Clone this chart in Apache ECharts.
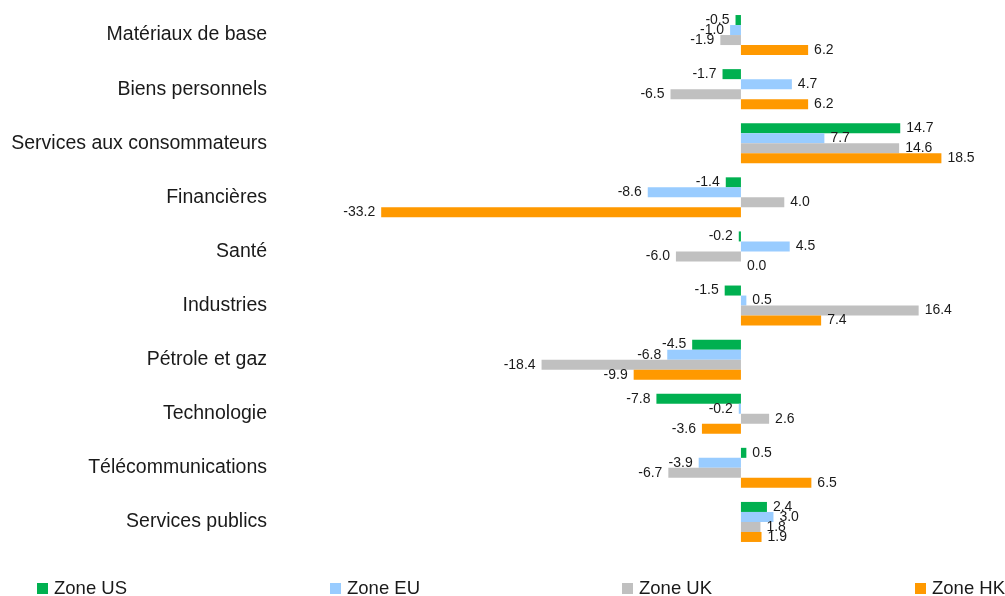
<!DOCTYPE html>
<html>
<head>
<meta charset="utf-8">
<script src="https://cdn.jsdelivr.net/npm/echarts@6/dist/echarts.min.js"></script>
<style>
  html, body { margin: 0; padding: 0; background: #fff; }
  #chart { width: 1005px; height: 596px; }
</style>
</head>
<body>
<div id="chart"></div>
<script>
// secteurs, de haut en bas
var categories = ['Matériaux de base', 'Biens personnels', 'Services aux consommateurs', 'Financières', 'Santé',
  'Industries', 'Pétrole et gaz', 'Technologie', 'Télécommunications', 'Services publics']
var seriesNames = ['Zone US', 'Zone EU', 'Zone UK', 'Zone HK']
var zoneUS = [-0.5, -1.7, 14.7, -1.4, -0.2, -1.5, -4.5, -7.8, 0.5, 2.4]
var zoneEU = [-1.0, 4.7, 7.7, -8.6, 4.5, 0.5, -6.8, -0.2, -3.9, 3.0]
var zoneUK = [-1.9, -6.5, 14.6, 4.0, -6.0, 16.4, -18.4, 2.6, -6.7, 1.8]
var zoneHK = [6.2, 6.2, 18.5, -33.2, 0.0, 7.4, -9.9, -3.6, 6.5, 1.9]

var colors = ['#00B050', '#99CCFF', '#C0C0C0', '#FF9900']
var fontFamily = 'Liberation Sans, Arial, sans-serif'

function makeSeries (name, values, color) {
  return {
    name: name,
    type: 'bar',
    barGap: '0%',
    barCategoryGap: '26%',
    itemStyle: { color: color },
    data: values.map(function (v) {
      return {
        value: v,
        label: {
          show: true,
          position: v < 0 ? 'left' : 'right',
          distance: 6,
          formatter: function (p) { return p.value.toFixed(1) },
          color: '#1a1a1a',
          fontSize: 14,
          fontFamily: fontFamily
        }
      }
    })
  }
}

var chart = echarts.init(document.getElementById('chart'))
var legendLeft = [32, 325, 617, 910]
var option = {
  animation: false,
  color: colors,
  grid: { left: 275, right: 4, top: 8, bottom: 47 },
  legend: seriesNames.map(function (n, i) {
    return {
      data: [n],
      left: legendLeft[i],
      top: 574,
      itemWidth: 11,
      itemHeight: 11,
      itemGap: 5,
      icon: 'rect',
      textStyle: { fontSize: 18.5, fontFamily: fontFamily, color: '#1a1a1a', padding: [0, 0, 0, 1] }
    }
  }),
  xAxis: {
    type: 'value',
    min: -43,
    max: 24,
    show: false,
    splitLine: { show: false }
  },
  yAxis: {
    type: 'category',
    data: categories,
    inverse: true,
    axisLine: { show: false, onZero: false },
    axisTick: { show: false },
    axisLabel: { fontSize: 19.5, fontFamily: fontFamily, color: '#1a1a1a', margin: 8 }
  },
  series: [
    makeSeries(seriesNames[0], zoneUS, colors[0]),
    makeSeries(seriesNames[1], zoneEU, colors[1]),
    makeSeries(seriesNames[2], zoneUK, colors[2]),
    makeSeries(seriesNames[3], zoneHK, colors[3])
  ]
}
chart.setOption(option)
</script>
</body>
</html>
